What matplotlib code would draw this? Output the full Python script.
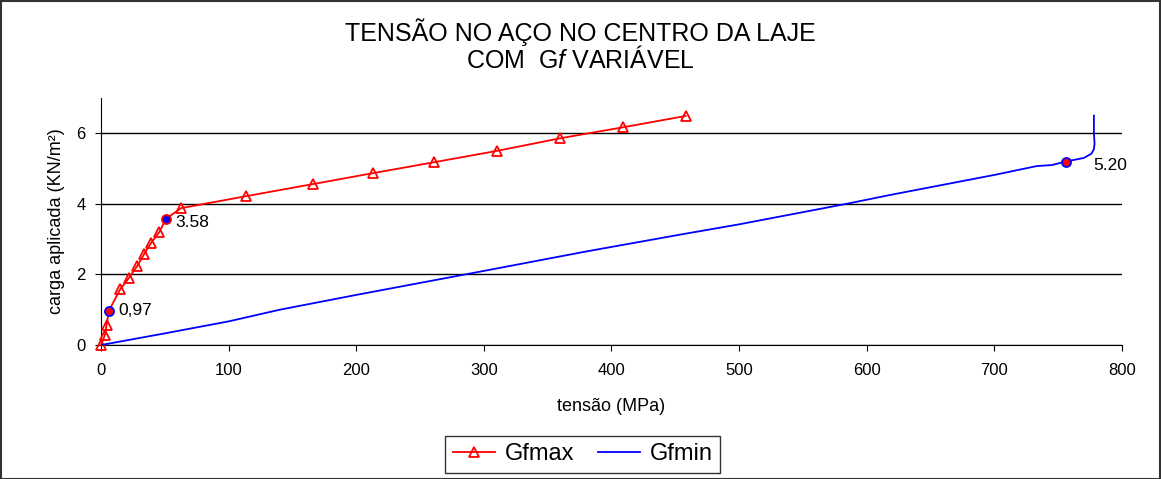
import matplotlib.pyplot as plt
from matplotlib.patches import Rectangle

plt.rcParams['font.family'] = ['Liberation Sans', 'DejaVu Sans']
plt.rcParams['mathtext.fontset'] = 'custom'
plt.rcParams['mathtext.it'] = 'Liberation Sans:italic'
plt.rcParams['mathtext.rm'] = 'Liberation Sans'

# Gfmax curve (tensão MPa, carga kN/m²)
gfmax_x = [0, 3, 4.4, 6.2, 15, 21.9, 28.2, 33.7, 39.4, 45.7, 50.9, 62.9, 114,
           166, 213, 261, 310, 360, 409, 458]
gfmax_y = [0, 0.28, 0.58, 0.97, 1.58, 1.9, 2.23, 2.57, 2.9, 3.2, 3.58, 3.88, 4.22,
           4.56, 4.87, 5.18, 5.5, 5.86, 6.17, 6.49]

# Gfmin curve
gfmin_x = [0, 50, 100, 140, 200, 300, 380, 454, 500, 584, 618, 700, 733, 745,
           756, 770, 776, 778, 778.5, 778, 778]
gfmin_y = [0, 0.33, 0.67, 1.0, 1.42, 2.1, 2.65, 3.13, 3.42, 4.0, 4.25, 4.82, 5.07,
           5.1, 5.2, 5.3, 5.42, 5.55, 5.71, 6.0, 6.5]

# highlighted points
mark_x = [6.2, 50.9, 756]
mark_y = [0.97, 3.58, 5.20]
mark_lbl = ['0,97', '3.58', '5.20']
mark_face = ['red', 'blue', 'red']
mark_edge = ['blue', 'red', 'blue']
lbl_off = [(7, 0), (7, -2.5), (20, -3)]

fig = plt.figure(figsize=(11.61, 4.79), dpi=100)
ax = fig.add_axes([0.087, 0.2797, 0.8794, 0.5157])

# no triangle where a highlighted point sits
tri_idx = [i for i, x in enumerate(gfmax_x) if x not in mark_x]
ax.plot(gfmax_x, gfmax_y, color='red', lw=1.3, marker='^', ms=7.5,
        mfc='none', mec='red', mew=1.3, markevery=tri_idx, label='Gfmax',
        zorder=3, clip_on=False)
ax.plot(gfmin_x, gfmin_y, color='blue', lw=1.3, label='Gfmin', zorder=3)

for x, y, t, fc, ec, off in zip(mark_x, mark_y, mark_lbl, mark_face, mark_edge, lbl_off):
    ax.plot(x, y, 'o', ms=6.5, mfc=fc, mec=ec, mew=1.3, zorder=4)
    ax.annotate(t, (x, y), xytext=off, textcoords='offset points',
                fontsize=12.5, va='center', ha='left')

ax.set_xlim(0, 800)
ax.set_ylim(0, 7)
ax.set_xticks(range(0, 801, 100))
ax.set_yticks([0, 2, 4, 6])
ax.yaxis.grid(True, color='black', lw=1)
ax.set_axisbelow(True)
for s in ['top', 'right']:
    ax.spines[s].set_visible(False)
ax.tick_params(labelsize=12, direction='out', length=4)
ax.tick_params(axis='x', pad=9)
ax.tick_params(axis='y', pad=7)
ax.set_xlabel('tensão (MPa)', fontsize=13, labelpad=14)
ax.set_ylabel('carga aplicada (KN/m²)', fontsize=13, labelpad=8)

fig.text(0.5, 0.915, 'TENSÃO NO AÇO NO CENTRO DA LAJE', ha='center', va='baseline', fontsize=18)
fig.text(0.5, 0.857, r'COM  G$\it{f}$ VARIÁVEL', ha='center', va='baseline', fontsize=18)

leg = fig.legend(loc='center', bbox_to_anchor=(0.502, 0.052), ncol=2,
                 fontsize=17, frameon=True, fancybox=False, edgecolor='black',
                 handlelength=1.8, handletextpad=0.4, columnspacing=1.0, borderpad=0.32)
leg.get_frame().set_linewidth(1)

fig.patches.append(Rectangle((0.001, 0.001), 0.998, 0.997, transform=fig.transFigure,
                             fill=False, edgecolor='#333333', lw=1.5))

fig.savefig('out.png', dpi=100)
